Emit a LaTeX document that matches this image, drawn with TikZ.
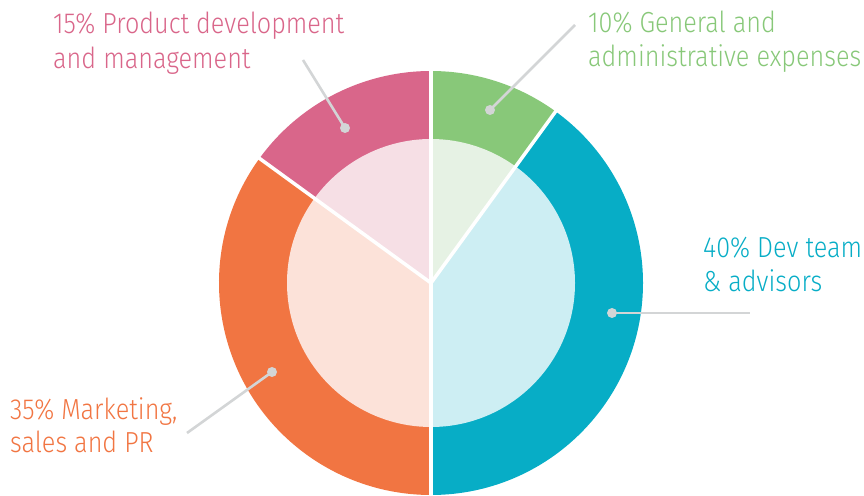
\documentclass[tikz,border=0pt]{standalone}
\usepackage{fontspec}
\setmainfont{Fira Sans Light}[FakeStretch=0.87]
\definecolor{pinkc}{HTML}{D9668A}
\definecolor{pinkl}{HTML}{F6DFE5}
\definecolor{greenc}{HTML}{88C879}
\definecolor{greenl}{HTML}{E6F2E4}
\definecolor{cyanc}{HTML}{07ADC6}
\definecolor{cyanl}{HTML}{CDEEF3}
\definecolor{orangec}{HTML}{F17542}
\definecolor{orangel}{HTML}{FCE2D9}
\definecolor{leader}{HTML}{D3D5D6}
\tikzset{
  lbl/.style={anchor=base west, inner sep=0pt, font=\fontsize{29}{34}\selectfont},
  dotc/.style={circle, fill=leader, inner sep=0pt, minimum size=10pt},
  leadline/.style={draw=leader, line width=2.6pt},
  sep/.style={draw=white, line width=3.5pt}
}
\begin{document}
\begin{tikzpicture}[x=1pt,y=1pt]
\useasboundingbox (0,0) rectangle (864,495);
\coordinate (O) at (431,212);
% outer sectors
\fill[greenc]  (O) -- ++(54:212) arc (54:90:212) -- cycle;
\fill[pinkc]   (O) -- ++(90:212) arc (90:144:212) -- cycle;
\fill[orangec] (O) -- ++(144:212) arc (144:270:212) -- cycle;
\fill[cyanc]   (O) -- ++(-90:212) arc (-90:54:212) -- cycle;
% inner sectors
\fill[greenl]  (O) -- ++(54:144) arc (54:90:144) -- cycle;
\fill[pinkl]   (O) -- ++(90:144) arc (90:144:144) -- cycle;
\fill[orangel] (O) -- ++(144:144) arc (144:270:144) -- cycle;
\fill[cyanl]   (O) -- ++(-90:144) arc (-90:54:144) -- cycle;
% separators
\draw[sep] (O) -- ++(90:214);
\draw[sep] (O) -- ++(54:214);
\draw[sep] (O) -- ++(144:214);
\draw[sep] (O) -- ++(-90:214);
% leader dots and lines
\node[dotc] (dpink) at (345,367) {};
\node[dotc] (dgreen) at (490,385) {};
\node[dotc] (dcyan) at (612,182) {};
\node[dotc] (dorange) at (272,123) {};
\coordinate (epink) at (303,435);
\coordinate (egreen) at (575,470);
\coordinate (ecyan) at (750,182);
\coordinate (eorange) at (187,62);
\draw[leadline] (dpink.center) -- (epink);
\draw[leadline] (dgreen.center) -- (egreen);
\draw[leadline] (dcyan.center) -- (ecyan);
\draw[leadline] (dorange.center) -- (eorange);
% labels
\node[lbl, text=pinkc] (tp1) at (53,461) {15\% Product development};
\node[lbl, text=pinkc] (tp2) at (53,426) {and management};
\node[lbl, text=greenc] (tg1) at (588,462) {10\% General and};
\node[lbl, text=greenc] (tg2) at (588,428) {administrative expenses};
\node[lbl, text=cyanc] (tc1) at (703,237) {40\% Dev team};
\node[lbl, text=cyanc] (tc2) at (703,203) {\& advisors};
\node[lbl, text=orangec] (to1) at (10,75) {35\% Marketing,};
\node[lbl, text=orangec] (to2) at (10,42) {sales and PR};
\end{tikzpicture}
\end{document}
